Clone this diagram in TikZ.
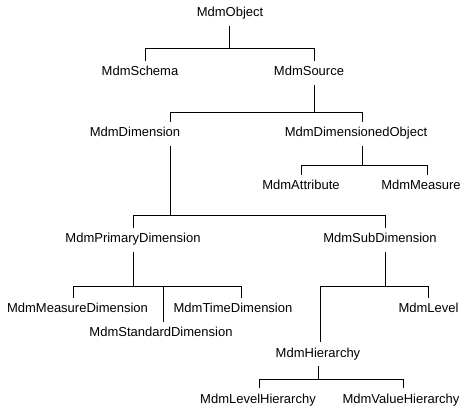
\documentclass[tikz,border=0pt]{standalone}
\usepackage{fontspec}
\setmainfont{Liberation Sans}
\begin{document}
\begin{tikzpicture}[x=1pt,y=-1pt]
        \useasboundingbox (0,0) rectangle (471,411);

        \begin{scope}[every node/.style={font=\fontsize{13}{15}\selectfont, text height=9pt, text depth=3pt, inner xsep=0pt, inner ysep=6pt}]
          \node (obj)     at (230,14)   {MdmObject};
          \node (schema)  at (140,73)   {MdmSchema};
          \node (source)  at (309,73)   {MdmSource};
          \node (dim)     at (135,134)  {MdmDimension};
          \node (dimobj)  at (356,134)  {MdmDimensionedObject};
          \node (attr)    at (301,187)  {MdmAttribute};
          \node (meas)    at (421,187)  {MdmMeasure};
          \node (prim)    at (133,240)  {MdmPrimaryDimension};
          \node (sub)     at (380,240)  {MdmSubDimension};
          \node (measdim) at (77.5,310) {MdmMeasureDimension};
          \node (timedim) at (233,310)  {MdmTimeDimension};
          \node (stddim)  at (161,334)  {MdmStandardDimension};
          \node (level)   at (428.5,310) {MdmLevel};
          \node (hier)    at (318,354)  {MdmHierarchy};
          \node (levhier) at (258,400)  {MdmLevelHierarchy};
          \node (valhier) at (401,400)  {MdmValueHierarchy};
        \end{scope}

        \begin{scope}[line width=1pt]
          \draw ([xshift=-1]obj.south) -- ++(0,22) -| ([xshift=5]schema.north);
          \draw ([xshift=-1]obj.south) -- ++(0,22) -| ([xshift=5]source.north);
          \draw ([xshift=5]source.south) -- ++(0,27) -| ([xshift=35]dim.north);
          \draw ([xshift=5]source.south) -- ++(0,27) -| ([xshift=6]dimobj.north);
          \draw ([xshift=6]dimobj.south) -- ++(0,19) -| (attr.north);
          \draw ([xshift=6]dimobj.south) -- ++(0,19) -| ([xshift=6]meas.north);
          \draw ([xshift=35]dim.south) -- ++(0,69) -| (prim.north);
          \draw ([xshift=35]dim.south) -- ++(0,69) -| ([xshift=5]sub.north);
          \draw (prim.south) -- ++(0,34) -| ([xshift=-4]measdim.north);
          \draw (prim.south) -- ++(0,34) -| ([xshift=8]timedim.north);
          \draw (prim.south) -- ++(0,34) -| ([xshift=2]stddim.north);
          \draw ([xshift=5]sub.south) -- ++(0,34) -| ([xshift=2]hier.north);
          \draw ([xshift=5]sub.south) -- ++(0,34) -| (level.north);
          \draw (hier.south) -- ++(0,13) -| ([xshift=1]levhier.north);
          \draw (hier.south) -- ++(0,13) -| ([xshift=2]valhier.north);
        \end{scope}

      \end{tikzpicture}
\end{document}
